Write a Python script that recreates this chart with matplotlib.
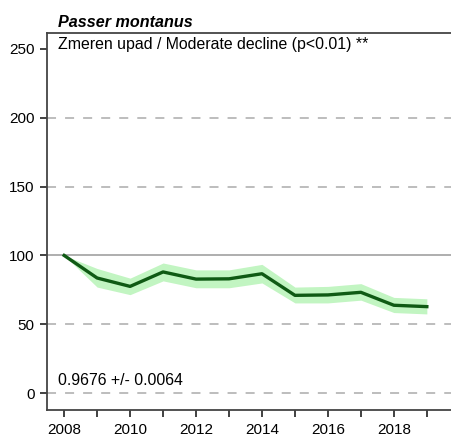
import numpy as np
import matplotlib.pyplot as plt

plt.rcParams['font.family'] = ['Liberation Sans', 'DejaVu Sans']

years = [2008, 2009, 2010, 2011, 2012, 2013, 2014, 2015, 2016, 2017, 2018, 2019]
index = [100, 83.6, 77.5, 88, 82.8, 83, 86.7, 71, 71.3, 73.2, 63.8, 62.8]
lower = [100, 77, 71.5, 81.5, 76.5, 76.5, 80, 65.5, 65.5, 67.5, 58.5, 57.5]
upper = [100, 90.5, 83.5, 94.5, 89.5, 89.5, 93.5, 77, 77.5, 79.5, 69.5, 68.5]

species = 'Passer montanus'
trend_txt = 'Zmeren upad / Moderate decline (p<0.01) **'
slope_txt = '0.9676 +/- 0.0064'

fig = plt.figure(figsize=(4.52, 4.37), dpi=100)
ax = fig.add_axes([47/452, 27/437, 1 - 47/452 + 0.01, 377/437])

for yv in [0, 50, 150, 200]:
    ax.axhline(yv, color='#b8b8b8', lw=1.3, ls=(0, (5, 5)), zorder=1)
ax.axhline(100, color='#a8a8a8', lw=1.3, zorder=1)

ax.fill_between(years, lower, upper, color='#c2f5c2', lw=0, zorder=2)
ax.plot(years, index, color='#0f5a14', lw=2.4, zorder=3)

ax.set_xlim(2007.48, 2019.9)
ax.set_ylim(-12.3, 261.6)
ax.set_yticks([0, 50, 100, 150, 200, 250])
ax.set_xticks(years)
ax.set_xticklabels([str(y) if y % 2 == 0 else '' for y in years])
ax.tick_params(labelsize=11, length=5, width=1.3, color='#333333', pad=4)
ax.spines['right'].set_visible(False)
for s in ['left', 'bottom', 'top']:
    ax.spines[s].set_linewidth(1.3)
    ax.spines[s].set_color('#444444')

ax.text(0.027, 1.008, species, transform=ax.transAxes, fontsize=11.6,
        fontweight='bold', fontstyle='italic', va='bottom', ha='left')
ax.text(0.027, 0.99, trend_txt, transform=ax.transAxes, fontsize=11.4,
        va='top', ha='left')
ax.text(0.027, 0.058, slope_txt, transform=ax.transAxes, fontsize=11.4,
        va='bottom', ha='left')

fig.savefig('out.png', dpi=100)
